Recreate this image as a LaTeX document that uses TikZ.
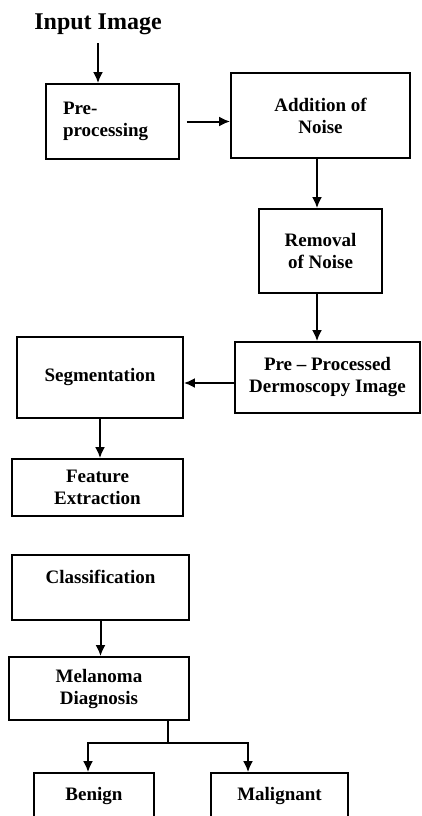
\documentclass[tikz,border=0pt]{standalone}
\usepackage{fontspec}
\setmainfont{Liberation Serif}
\usetikzlibrary{arrows.meta}
\begin{document}
\begin{tikzpicture}[x=1pt, y=-1pt, font=\bfseries\fontsize{19}{22}\selectfont,
        box/.style={draw, line width=1.8pt, align=center, inner sep=0pt},
        arr/.style={line width=2pt, -{Latex[length=11pt, width=10pt]}}]
            \useasboundingbox (0, 0) rectangle (422, 816);
            \clip (0, 0) rectangle (422, 816);

            \node (in) at (98, 24) {\fontsize{24}{28}\selectfont Input Image};
            \node[box, minimum width=133pt, minimum height=75pt, text width=99pt, inner xsep=17pt, align=left] (pre) at (112.5, 121.5) {Pre-\\processing};
            \node[box, minimum width=179pt, minimum height=85pt] (add) at (320.5, 115.5) {Addition of\\Noise};
            \node[box, minimum width=123pt, minimum height=84pt] (rem) at (320.5, 251) {Removal\\of Noise};
            \node[box, minimum width=185pt, minimum height=71pt] (ppd) at (327.5, 377.5) {Pre -- Processed\\Dermoscopy Image};
            \node[box, minimum width=166pt, minimum height=81pt] (seg) at (100, 377.5) {Segmentation};
            \node[box, minimum width=171pt, minimum height=57pt] (feat) at (97.5, 487.5) {Feature\\Extraction};
            \node[box, minimum width=177pt, minimum height=65pt] (cls) at (100.5, 587.5) {Classification\\~};
            \node[box, minimum width=180pt, minimum height=63pt] (mel) at (99, 688.5) {Melanoma\\Diagnosis};
            \node[box, minimum width=120pt, minimum height=46pt] (ben) at (94, 796) {Benign};
            \node[box, minimum width=137pt, minimum height=46pt] (mal) at (279.5, 796) {Malignant};
            \coordinate (fork) at (168, 743);

            \draw[arr, shorten <=5pt] (in) -- (in |- pre.north);
            \draw[arr] ([xshift=7pt]pre.east) -- (pre.east -| add.west);
            \draw[arr] ([xshift=-3.5pt]add.south) -- ([xshift=-3.5pt]rem.north);
            \draw[arr] ([xshift=-3.5pt]rem.south) -- ([xshift=-3.5pt]rem.south |- ppd.north);
            \draw[arr] ([yshift=-5.5pt]ppd.west) -- ([yshift=-5.5pt]seg.east);
            \draw[arr] (seg.south) -- (seg.south |- feat.north);
            \draw[arr] (cls.south) -- (cls.south |- mel.north);

            \draw[line width=2pt] (fork |- mel.south) -- (fork);
            \draw[arr] (fork) -| ([xshift=-6pt]ben.north);
            \draw[arr] (fork) -| ([xshift=-31.5pt]mal.north);
        \end{tikzpicture}
\end{document}
